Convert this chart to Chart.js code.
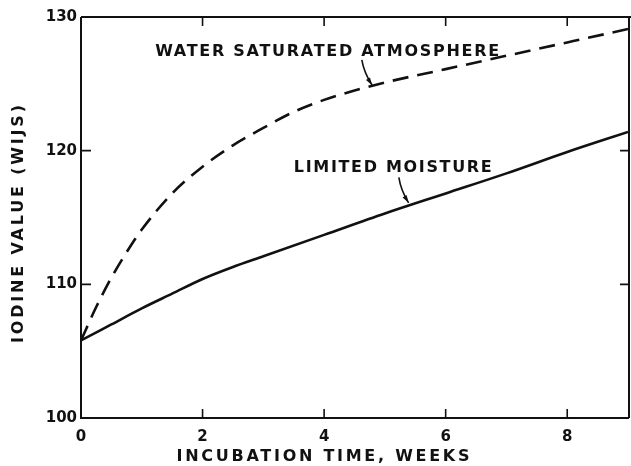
<!DOCTYPE html>
<html lang="en">
<head>
<meta charset="UTF-8">
<title>Iodine value vs incubation time</title>
<script src="https://cdn.jsdelivr.net/npm/chart.js"></script>
<style>
  body { margin: 0; background: #fff; }
  #wrap { width: 631px; height: 466px; }
</style>
</head>
<body>
<div id="wrap"><canvas id="iodineChart"></canvas></div>
<script>
// values
const weeksSaturated = [0, 0.25, 0.5, 0.75, 1, 1.5, 2, 2.5, 3, 3.5, 4, 4.5, 5, 6, 7, 8, 9];
const iodineSaturated = [105.8, 108.3, 110.5, 112.4, 114.1, 116.8, 118.8, 120.4, 121.7, 122.9, 123.8, 124.5, 125.1, 126.1, 127.1, 128.1, 129.1];
const weeksLimited = [0, 0.5, 1, 1.5, 2, 2.5, 3, 4, 5, 6, 7, 8, 9];
const iodineLimited = [105.8, 107.0, 108.2, 109.3, 110.4, 111.3, 112.1, 113.7, 115.3, 116.8, 118.3, 119.9, 121.4];
const xTicks = [0, 2, 4, 6, 8];
const yTicks = [100, 110, 120, 130];
const seriesNames = ['WATER SATURATED ATMOSPHERE', 'LIMITED MOISTURE'];
const xTitle = 'INCUBATION TIME, WEEKS';
const yTitle = 'IODINE VALUE (WIJS)';

const INK = '#111';
const FONT = '"DejaVu Sans", sans-serif';

function toPoints(xs, ys) {
    return xs.map((x, i) => ({ x: x, y: ys[i] }));
}

// draw text stretched to a given width with letter spacing
function spacedText(ctx, text, cx, cy, width) {
    ctx.letterSpacing = '0px';
    const w = ctx.measureText(text).width;
    const gap = (width - w) / (text.length - 1);
    ctx.letterSpacing = gap + 'px';
    ctx.textAlign = 'left';
    ctx.textBaseline = 'middle';
    ctx.fillText(text, cx - width / 2, cy);
    ctx.letterSpacing = '0px';
}

function arrow(ctx, x0, y0, x1, y1) {
    const mx = (x0 + x1) / 2 - 3, my = (y0 + y1) / 2;
    ctx.beginPath();
    ctx.moveTo(x0, y0);
    ctx.quadraticCurveTo(mx, my, x1, y1);
    ctx.lineWidth = 1.6;
    ctx.stroke();
    const ang = Math.atan2(y1 - my, x1 - mx);
    ctx.beginPath();
    ctx.moveTo(x1, y1);
    ctx.lineTo(x1 - 8 * Math.cos(ang - 0.3), y1 - 8 * Math.sin(ang - 0.3));
    ctx.lineTo(x1 - 8 * Math.cos(ang + 0.3), y1 - 8 * Math.sin(ang + 0.3));
    ctx.closePath();
    ctx.fill();
}

const framePlugin = {
    id: 'frame',
    afterDatasetsDraw(chart) {
        const { ctx, chartArea: a, scales: { x, y } } = chart;
        ctx.save();
        ctx.strokeStyle = INK;
        ctx.fillStyle = INK;
        ctx.lineWidth = 2;
        ctx.beginPath();
        ctx.moveTo(a.left, a.top);
        ctx.lineTo(a.left, a.bottom);
        ctx.lineTo(a.right + 1, a.bottom);
        ctx.moveTo(a.left, a.top);
        ctx.lineTo(a.right + 3, a.top);
        ctx.moveTo(a.right + 1, a.top);
        ctx.lineTo(a.right + 1, a.bottom);
        ctx.stroke();

        // inward tick marks on all four sides
        ctx.lineWidth = 1.6;
        ctx.beginPath();
        xTicks.filter(v => v > x.min).forEach(v => {
            const px = x.getPixelForValue(v);
            ctx.moveTo(px, a.bottom);
            ctx.lineTo(px, a.bottom - 9);
            ctx.moveTo(px, a.top);
            ctx.lineTo(px, a.top + 9);
        });
        yTicks.filter(v => v > y.min && v < y.max).forEach(v => {
            const py = y.getPixelForValue(v);
            ctx.moveTo(a.left, py);
            ctx.lineTo(a.left + 10, py);
            ctx.moveTo(a.right + 1, py);
            ctx.lineTo(a.right - 8, py);
        });
        ctx.stroke();

        // curve labels with arrows
        ctx.font = 'bold 16px ' + FONT;
        spacedText(ctx, seriesNames[0], x.getPixelForValue(4.05), y.getPixelForValue(127.4), 344);
        spacedText(ctx, seriesNames[1], x.getPixelForValue(5.13), y.getPixelForValue(118.7), 198);
        arrow(ctx, x.getPixelForValue(4.62), y.getPixelForValue(126.8),
                   x.getPixelForValue(4.79), y.getPixelForValue(124.9));
        arrow(ctx, x.getPixelForValue(5.23), y.getPixelForValue(118.0),
                   x.getPixelForValue(5.39), y.getPixelForValue(116.1));

        // axis titles
        ctx.font = 'bold 16px ' + FONT;
        spacedText(ctx, xTitle, 323, 457, 293);
        ctx.translate(19, 224);
        ctx.rotate(-Math.PI / 2);
        spacedText(ctx, yTitle, 0, 0, 238);
        ctx.restore();
    }
};

const ctx = document.getElementById('iodineChart').getContext('2d');
new Chart(ctx, {
    type: 'line',
    data: {
        datasets: [{
            label: seriesNames[0],
            data: toPoints(weeksSaturated, iodineSaturated),
            borderColor: INK,
            borderWidth: 2.6,
            borderDash: [16, 9],
            pointRadius: 0,
            cubicInterpolationMode: 'monotone',
            fill: false
        }, {
            label: seriesNames[1],
            data: toPoints(weeksLimited, iodineLimited),
            borderColor: INK,
            borderWidth: 2.6,
            pointRadius: 0,
            cubicInterpolationMode: 'monotone',
            fill: false
        }]
    },
    options: {
        responsive: true,
        maintainAspectRatio: false,
        animation: false,
        layout: { padding: { top: 17, right: 3, left: 0, bottom: 0 } },
        plugins: {
            legend: { display: false },
            tooltip: { enabled: false }
        },
        scales: {
            x: {
                type: 'linear',
                min: 0,
                max: 9,
                afterBuildTicks: s => { s.ticks = xTicks.map(v => ({ value: v })); },
                afterFit: s => { s.height = 48; },
                grid: { display: false, drawTicks: false },
                border: { display: false },
                ticks: {
                    color: INK,
                    padding: 10,
                    maxRotation: 0,
                    font: { family: FONT, size: 15, weight: 'bold' }
                }
            },
            y: {
                min: 100,
                max: 130,
                afterBuildTicks: s => { s.ticks = yTicks.map(v => ({ value: v })); },
                afterFit: s => { s.width = 81; },
                grid: { display: false, drawTicks: false },
                border: { display: false },
                ticks: {
                    color: INK,
                    padding: 4,
                    font: { family: FONT, size: 15, weight: 'bold' }
                }
            }
        }
    },
    plugins: [framePlugin]
});
</script>
</body>
</html>
